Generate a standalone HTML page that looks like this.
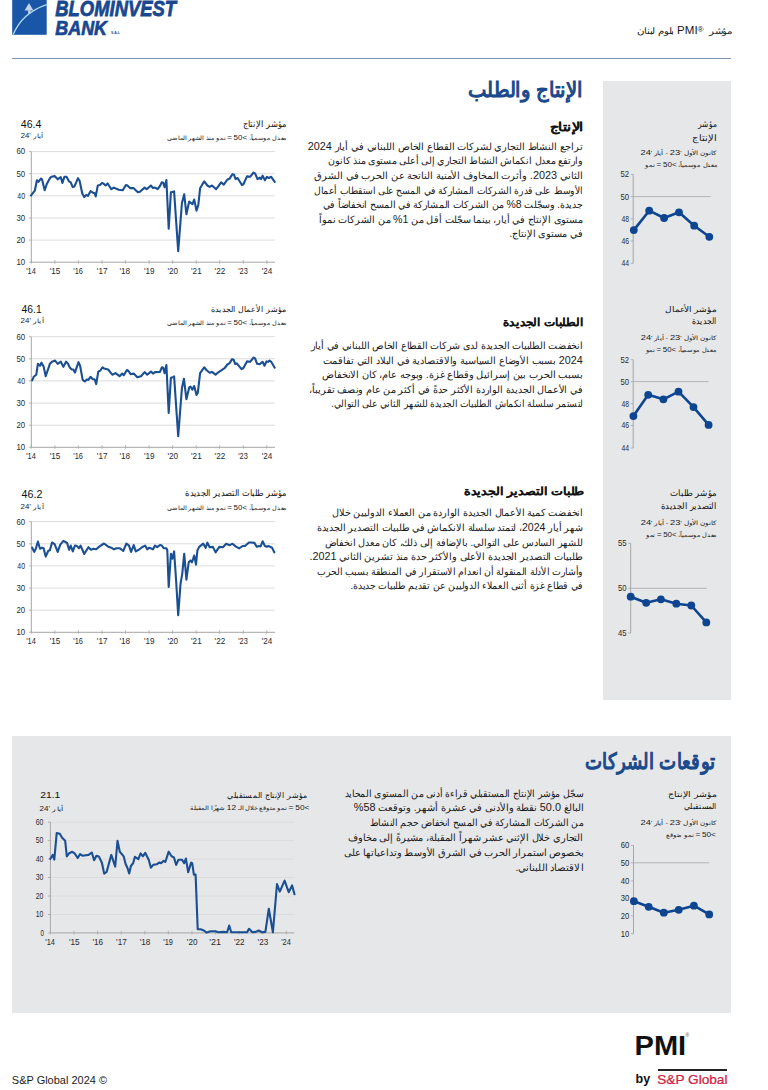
<!DOCTYPE html><html><head><meta charset="utf-8"><style>
html,body{margin:0;padding:0;background:#fff;width:768px;height:1090px;overflow:hidden;position:relative;font-family:"Liberation Sans",sans-serif;}
.t{position:absolute;white-space:nowrap;line-height:1;transform-origin:0 0;}
.s{position:absolute;left:0;top:0;}
.b{position:absolute;}
.p{position:absolute;white-space:nowrap;font-size:10px;color:#1a1a1a;line-height:14.6px;}
</style></head><body>
<div class="b" style="left:603px;top:80.5px;width:128px;height:619.5px;background:#e6e7e9"></div>
<div class="b" style="left:11.7px;top:736px;width:719.3px;height:277px;background:#e6e7e9"></div>
<div class="b" style="left:12px;top:58px;width:719.4px;height:1px;background:#7f96b2"></div>
<svg class="s" width="768" height="1090"><rect x="12.2" y="0" width="34.5" height="34.8" fill="#1a56a8"/>
<path d="M13.2,34.6 Q22,13 46.6,4.6" fill="none" stroke="#b0dcf5" stroke-width="1.3"/>
<path d="M29,2.9 L33.4,10.4 L24.6,10.6 Z" fill="#c3d3ea"/><rect x="28.1" y="10.2" width="2.4" height="3.5" fill="#c3d3ea"/>
</svg>
<div class="t" id="logo1" style="left:55.3px;top:-4.1px;font-size:20px;color:#18488f;font-weight:bold;font-style:italic;-webkit-text-stroke:0.7px #18488f;transform:translate(0.30px,0.41px) scale(0.9211,1.1231);">BLOMINVEST</div>
<div class="t" id="logo2" style="left:55.3px;top:15.0px;font-size:20px;color:#18488f;font-weight:bold;font-style:italic;-webkit-text-stroke:0.7px #18488f;transform:translate(0.30px,1.87px) scale(0.8950,1.0429);">BANK</div>
<div class="t" style="left:111px;top:31.5px;font-size:3.5px;font-weight:bold;color:#18488f">S.A.L</div>
<div class="t" id="hdr" dir="rtl" style="right:36.6px;top:24.1px;font-size:10px;color:#1a1a1a;font-weight:normal;transform:translate(4.00px,1.88px) scale(0.9633,0.8500);">مؤشر&nbsp; <span dir="ltr" style="unicode-bidi:isolate;font-size:12px">PMI<span style="font-size:8.5px;vertical-align:3px">®</span></span> بلوم لبنان</div>
<div class="t" id="title1" dir="rtl" style="right:186.0px;top:75.0px;font-size:20px;color:#1a4a8c;font-weight:normal;-webkit-text-stroke:1.1px #1a4a8c;transform:translate(5.03px,3.96px) scale(0.9658,1.0364);">الإنتاج والطلب</div>
<div class="t" id="sub1" dir="rtl" style="right:185.3px;top:117.7px;font-size:13px;color:#111;font-weight:bold;-webkit-text-stroke:0.1px #111;transform:translate(-2.50px,2.90px) scale(1.1067,0.9067);">الإنتاج</div>
<div class="p" dir="rtl" style="right:185.2px;top:139.8px;font-size:10px;line-height:14.6px;transform:scaleX(0.9832);transform-origin:100% 50%;">تراجع النشاط التجاري لشركات القطاع الخاص اللبناني في أيار <span style="font-size:11px;line-height:0">2024</span></div>
<div class="p" dir="rtl" style="right:185.2px;top:154.4px;font-size:10px;line-height:14.6px;transform:scaleX(0.9535);transform-origin:100% 50%;">وارتفع معدل انكماش النشاط التجاري إلى أعلى مستوى منذ كانون</div>
<div class="p" dir="rtl" style="right:185.2px;top:169.0px;font-size:10px;line-height:14.6px;transform:scaleX(0.9880);transform-origin:100% 50%;">الثاني <span style="font-size:11px;line-height:0">2023.</span> وأثرت المخاوف الأمنية الناتجة عن الحرب في الشرق</div>
<div class="p" dir="rtl" style="right:185.2px;top:183.6px;font-size:10px;line-height:14.6px;transform:scaleX(0.9208);transform-origin:100% 50%;">الأوسط على قدرة الشركات المشاركة في المسح على استقطاب أعمال</div>
<div class="p" dir="rtl" style="right:185.2px;top:198.2px;font-size:10px;line-height:14.6px;transform:scaleX(0.9492);transform-origin:100% 50%;">جديدة. وسجّلت <span style="font-size:11px;line-height:0">8%</span> من الشركات المشاركة في المسح انخفاضاً في</div>
<div class="p" dir="rtl" style="right:185.2px;top:212.8px;font-size:10px;line-height:14.6px;transform:scaleX(0.9656);transform-origin:100% 50%;">مستوى الإنتاج في أيار، بينما سجّلت أقل من <span style="font-size:11px;line-height:0">1%</span> من الشركات نمواً</div>
<div class="p" dir="rtl" style="right:185.2px;top:227.4px;font-size:10px;line-height:14.6px;transform:scaleX(0.9662);transform-origin:100% 50%;">في مستوى الإنتاج.</div>
<div class="t" id="sub2" dir="rtl" style="right:184.9px;top:313.9px;font-size:13px;color:#111;font-weight:bold;-webkit-text-stroke:0.1px #111;transform:translate(8.00px,2.75px) scale(0.9207,0.8500);">الطلبات الجديدة</div>
<div class="p" dir="rtl" style="right:185.2px;top:339.0px;font-size:10px;line-height:14.6px;transform:scaleX(0.9595);transform-origin:100% 50%;">انخفضت الطلبيات الجديدة لدى شركات القطاع الخاص اللبناني في أيار</div>
<div class="p" dir="rtl" style="right:185.2px;top:353.6px;font-size:10px;line-height:14.6px;transform:scaleX(0.9752);transform-origin:100% 50%;"><span style="font-size:11px;line-height:0">2024</span> بسبب الأوضاع السياسية والاقتصادية في البلاد التي تفاقمت</div>
<div class="p" dir="rtl" style="right:185.2px;top:368.2px;font-size:10px;line-height:14.6px;transform:scaleX(0.9812);transform-origin:100% 50%;">بسبب الحرب بين إسرائيل وقطاع غزة. وبوجه عام، كان الانخفاض</div>
<div class="p" dir="rtl" style="right:185.2px;top:382.8px;font-size:10px;line-height:14.6px;transform:scaleX(0.9669);transform-origin:100% 50%;">في الأعمال الجديدة الواردة الأكثر حدةً في أكثر من عام ونصف تقريباً،</div>
<div class="p" dir="rtl" style="right:185.2px;top:397.4px;font-size:10px;line-height:14.6px;transform:scaleX(0.9156);transform-origin:100% 50%;">لتستمر سلسلة انكماش الطلبيات الجديدة للشهر الثاني على التوالي.</div>
<div class="t" id="sub3" dir="rtl" style="right:184.0px;top:482.1px;font-size:13px;color:#111;font-weight:bold;-webkit-text-stroke:0.1px #111;transform:translate(2.70px,3.27px) scale(0.9780,0.8500);">طلبات التصدير الجديدة</div>
<div class="p" dir="rtl" style="right:185.2px;top:506.4px;font-size:10px;line-height:14.6px;transform:scaleX(0.9682);transform-origin:100% 50%;">انخفضت كمية الأعمال الجديدة الواردة من العملاء الدوليين خلال</div>
<div class="p" dir="rtl" style="right:185.2px;top:521.0px;font-size:10px;line-height:14.6px;transform:scaleX(0.9613);transform-origin:100% 50%;">شهر أيار <span style="font-size:11px;line-height:0">2024</span>، لتمتد سلسلة الانكماش في طلبيات التصدير الجديدة</div>
<div class="p" dir="rtl" style="right:185.2px;top:535.6px;font-size:10px;line-height:14.6px;transform:scaleX(0.9670);transform-origin:100% 50%;">للشهر السادس على التوالي. بالإضافة إلى ذلك، كان معدل انخفاض</div>
<div class="p" dir="rtl" style="right:185.2px;top:550.2px;font-size:10px;line-height:14.6px;transform:scaleX(0.9807);transform-origin:100% 50%;">طلبيات التصدير الجديدة الأعلى والأكثر حدة منذ تشرين الثاني <span style="font-size:11px;line-height:0">2021.</span></div>
<div class="p" dir="rtl" style="right:185.2px;top:564.8px;font-size:10px;line-height:14.6px;transform:scaleX(0.9359);transform-origin:100% 50%;">وأشارت الأدلة المنقولة أن انعدام الاستقرار في المنطقة بسبب الحرب</div>
<div class="p" dir="rtl" style="right:185.2px;top:579.4px;font-size:10px;line-height:14.6px;transform:scaleX(0.9409);transform-origin:100% 50%;">في قطاع غزة أثنى العملاء الدوليين عن تقديم طلبيات جديدة.</div>
<svg class="s" width="768" height="1090"><line x1="31.3" y1="151.6" x2="275" y2="151.6" stroke="#dcdcdc" stroke-width="1"/><line x1="28.8" y1="151.6" x2="31.3" y2="151.6" stroke="#a6a6a6" stroke-width="0.8"/><line x1="31.3" y1="173.7" x2="275" y2="173.7" stroke="#dcdcdc" stroke-width="1"/><line x1="28.8" y1="173.7" x2="31.3" y2="173.7" stroke="#a6a6a6" stroke-width="0.8"/><line x1="31.3" y1="195.8" x2="275" y2="195.8" stroke="#dcdcdc" stroke-width="1"/><line x1="28.8" y1="195.8" x2="31.3" y2="195.8" stroke="#a6a6a6" stroke-width="0.8"/><line x1="31.3" y1="218.0" x2="275" y2="218.0" stroke="#dcdcdc" stroke-width="1"/><line x1="28.8" y1="218.0" x2="31.3" y2="218.0" stroke="#a6a6a6" stroke-width="0.8"/><line x1="31.3" y1="240.1" x2="275" y2="240.1" stroke="#dcdcdc" stroke-width="1"/><line x1="28.8" y1="240.1" x2="31.3" y2="240.1" stroke="#a6a6a6" stroke-width="0.8"/><line x1="28.8" y1="262.2" x2="31.3" y2="262.2" stroke="#a6a6a6" stroke-width="0.8"/><line x1="31.3" y1="151.6" x2="31.3" y2="262.2" stroke="#a6a6a6" stroke-width="1"/><line x1="31.3" y1="262.2" x2="275" y2="262.2" stroke="#a6a6a6" stroke-width="1"/><line x1="31.3" y1="260.2" x2="31.3" y2="263.7" stroke="#a6a6a6" stroke-width="0.8"/><line x1="54.9" y1="260.2" x2="54.9" y2="263.7" stroke="#a6a6a6" stroke-width="0.8"/><line x1="78.4" y1="260.2" x2="78.4" y2="263.7" stroke="#a6a6a6" stroke-width="0.8"/><line x1="102.0" y1="260.2" x2="102.0" y2="263.7" stroke="#a6a6a6" stroke-width="0.8"/><line x1="125.5" y1="260.2" x2="125.5" y2="263.7" stroke="#a6a6a6" stroke-width="0.8"/><line x1="149.1" y1="260.2" x2="149.1" y2="263.7" stroke="#a6a6a6" stroke-width="0.8"/><line x1="172.6" y1="260.2" x2="172.6" y2="263.7" stroke="#a6a6a6" stroke-width="0.8"/><line x1="196.2" y1="260.2" x2="196.2" y2="263.7" stroke="#a6a6a6" stroke-width="0.8"/><line x1="219.7" y1="260.2" x2="219.7" y2="263.7" stroke="#a6a6a6" stroke-width="0.8"/><line x1="243.3" y1="260.2" x2="243.3" y2="263.7" stroke="#a6a6a6" stroke-width="0.8"/><line x1="266.8" y1="260.2" x2="266.8" y2="263.7" stroke="#a6a6a6" stroke-width="0.8"/><polyline points="31.1,195.4 34.8,190.7 36.9,180.3 38.4,181.9 39.5,180.3 41.0,178.5 42.1,179.8 44.7,190.2 46.8,184.0 49.9,178.2 51.4,176.7 54.6,176.1 57.7,179.3 59.2,178.2 60.8,177.2 62.4,182.9 64.5,176.7 66.5,176.7 69.1,181.4 70.7,182.4 72.8,187.1 74.4,186.6 78.0,178.2 79.6,180.8 82.2,193.3 84.2,197.0 86.3,194.9 87.9,195.9 90.5,191.2 93.1,192.8 94.7,193.3 95.7,196.5 97.8,185.5 99.9,185.0 102.0,182.9 104.0,184.0 105.6,185.5 107.6,183.4 109.2,186.0 111.3,189.2 113.9,187.6 118.6,189.7 122.8,190.2 125.9,185.0 127.4,185.5 130.0,188.1 133.7,188.1 135.2,189.7 137.9,192.3 139.9,191.8 144.6,187.6 146.7,189.2 150.9,185.5 153.0,188.1 155.0,187.6 157.6,189.2 160.0,186.0 161.8,182.3 163.2,182.8 164.6,187.3 166.4,180.0 168.7,228.8 170.9,192.3 174.1,191.4 178.2,251.1 181.9,203.3 184.2,194.2 186.4,214.2 189.2,201.5 192.4,204.2 194.2,199.6 196.5,210.6 198.3,205.1 200.1,188.2 204.2,181.4 207.4,185.5 209.7,186.9 212.0,185.5 216.1,189.2 218.3,186.4 221.1,182.3 223.8,184.6 227.4,179.5 229.4,178.8 232.5,174.1 234.1,174.8 235.6,179.1 237.6,178.0 241.9,185.0 243.4,184.2 247.0,176.4 250.1,176.8 253.6,172.5 255.2,173.7 257.5,179.1 259.8,177.6 261.0,179.1 262.6,175.6 264.9,180.3 266.9,176.8 268.8,178.0 271.2,176.8 274.7,181.9" fill="none" stroke="#1b4f93" stroke-width="2.1" stroke-linejoin="round" stroke-linecap="round"/></svg>
<div class="t" id="c1y0" style="left:16.5px;top:146.8px;font-size:8px;color:#2a2a2a;font-weight:normal;transform:translate(-0.50px,0.68px) scale(0.9750,1.1200);">60</div>
<div class="t" id="c1y1" style="left:16.5px;top:168.9px;font-size:8px;color:#2a2a2a;font-weight:normal;transform:translate(-0.50px,0.80px) scale(0.9750,1.1200);">50</div>
<div class="t" id="c1y2" style="left:16.5px;top:191.0px;font-size:8px;color:#2a2a2a;font-weight:normal;transform:translate(0.37px,0.92px) scale(0.8667,1.1200);">40</div>
<div class="t" id="c1y3" style="left:16.5px;top:213.2px;font-size:8px;color:#2a2a2a;font-weight:normal;transform:translate(-0.50px,1.04px) scale(0.9750,1.1200);">30</div>
<div class="t" id="c1y4" style="left:16.5px;top:235.3px;font-size:8px;color:#2a2a2a;font-weight:normal;transform:translate(-0.50px,1.16px) scale(0.9750,1.1200);">20</div>
<div class="t" id="c1y5" style="left:16.5px;top:257.4px;font-size:8px;color:#2a2a2a;font-weight:normal;transform:translate(-0.50px,1.28px) scale(0.9750,1.1200);">10</div>
<div class="t" id="c1x0" style="left:26.2px;top:266.5px;font-size:8px;color:#2a2a2a;font-weight:normal;transform:translate(0.20px,0.46px) scale(0.9273,1.0400);">'14</div>
<div class="t" id="c1x1" style="left:49.8px;top:266.5px;font-size:8px;color:#2a2a2a;font-weight:normal;transform:translate(-0.25px,0.46px) scale(1.0200,1.0400);">'15</div>
<div class="t" id="c1x2" style="left:73.3px;top:266.5px;font-size:8px;color:#2a2a2a;font-weight:normal;transform:translate(0.30px,0.46px) scale(0.9273,1.0400);">'16</div>
<div class="t" id="c1x3" style="left:96.9px;top:266.5px;font-size:8px;color:#2a2a2a;font-weight:normal;transform:translate(-0.15px,0.46px) scale(1.0200,1.0400);">'17</div>
<div class="t" id="c1x4" style="left:120.4px;top:266.5px;font-size:8px;color:#2a2a2a;font-weight:normal;transform:translate(-0.62px,0.46px) scale(1.0200,1.0400);">'18</div>
<div class="t" id="c1x5" style="left:144.0px;top:266.5px;font-size:8px;color:#2a2a2a;font-weight:normal;transform:translate(-0.05px,0.46px) scale(1.0200,1.0400);">'19</div>
<div class="t" id="c1x6" style="left:167.5px;top:266.5px;font-size:8px;color:#2a2a2a;font-weight:normal;transform:translate(-0.50px,0.46px) scale(1.0200,1.0400);">'20</div>
<div class="t" id="c1x7" style="left:191.1px;top:266.5px;font-size:8px;color:#2a2a2a;font-weight:normal;transform:translate(0.05px,0.46px) scale(1.0200,1.0400);">'21</div>
<div class="t" id="c1x8" style="left:214.6px;top:266.5px;font-size:8px;color:#2a2a2a;font-weight:normal;transform:translate(-0.40px,0.46px) scale(1.0200,1.0400);">'22</div>
<div class="t" id="c1x9" style="left:238.2px;top:266.5px;font-size:8px;color:#2a2a2a;font-weight:normal;transform:translate(0.15px,0.46px) scale(0.9273,1.0400);">'23</div>
<div class="t" id="c1x10" style="left:261.7px;top:266.5px;font-size:8px;color:#2a2a2a;font-weight:normal;transform:translate(-0.30px,0.46px) scale(1.0200,1.0400);">'24</div>
<div class="t" id="c1v" style="left:20.8px;top:117.3px;font-size:10.5px;color:#111;font-weight:normal;transform:translate(-0.20px,1.93px) scale(1.0100,0.9750);">46.4</div>
<div class="t" id="c1d" style="left:20.8px;top:130.3px;font-size:7.5px;color:#222;font-weight:normal;direction:ltr;transform:translate(-0.20px,2.88px) scale(1.0227,0.8500);">أيار '24</div>
<div class="t" id="c1t" dir="rtl" style="right:481.4px;top:117.2px;font-size:9.5px;color:#111;font-weight:normal;transform:translate(6.60px,2.60px) scale(0.8627,0.9273);">مؤشر الإنتاج</div>
<div class="t" id="c1s" dir="rtl" style="right:481.4px;top:132.3px;font-size:6.8px;color:#1a1a1a;font-weight:normal;transform:translate(12.80px,3.28px) scale(0.9076,0.8500);">معدل موسمياً، <span style="font-size:8.8px;line-height:0">&gt;</span><span style="font-size:8.8px;line-height:0">50</span> <span style="font-size:8.8px;line-height:0">=</span> نمو منذ الشهر الماضي</div>
<svg class="s" width="768" height="1090"><line x1="31.3" y1="336.7" x2="275" y2="336.7" stroke="#dcdcdc" stroke-width="1"/><line x1="28.8" y1="336.7" x2="31.3" y2="336.7" stroke="#a6a6a6" stroke-width="0.8"/><line x1="31.3" y1="358.8" x2="275" y2="358.8" stroke="#dcdcdc" stroke-width="1"/><line x1="28.8" y1="358.8" x2="31.3" y2="358.8" stroke="#a6a6a6" stroke-width="0.8"/><line x1="31.3" y1="380.9" x2="275" y2="380.9" stroke="#dcdcdc" stroke-width="1"/><line x1="28.8" y1="380.9" x2="31.3" y2="380.9" stroke="#a6a6a6" stroke-width="0.8"/><line x1="31.3" y1="403.1" x2="275" y2="403.1" stroke="#dcdcdc" stroke-width="1"/><line x1="28.8" y1="403.1" x2="31.3" y2="403.1" stroke="#a6a6a6" stroke-width="0.8"/><line x1="31.3" y1="425.2" x2="275" y2="425.2" stroke="#dcdcdc" stroke-width="1"/><line x1="28.8" y1="425.2" x2="31.3" y2="425.2" stroke="#a6a6a6" stroke-width="0.8"/><line x1="28.8" y1="447.3" x2="31.3" y2="447.3" stroke="#a6a6a6" stroke-width="0.8"/><line x1="31.3" y1="336.7" x2="31.3" y2="447.3" stroke="#a6a6a6" stroke-width="1"/><line x1="31.3" y1="447.3" x2="275" y2="447.3" stroke="#a6a6a6" stroke-width="1"/><line x1="31.3" y1="445.3" x2="31.3" y2="448.8" stroke="#a6a6a6" stroke-width="0.8"/><line x1="54.9" y1="445.3" x2="54.9" y2="448.8" stroke="#a6a6a6" stroke-width="0.8"/><line x1="78.4" y1="445.3" x2="78.4" y2="448.8" stroke="#a6a6a6" stroke-width="0.8"/><line x1="102.0" y1="445.3" x2="102.0" y2="448.8" stroke="#a6a6a6" stroke-width="0.8"/><line x1="125.5" y1="445.3" x2="125.5" y2="448.8" stroke="#a6a6a6" stroke-width="0.8"/><line x1="149.1" y1="445.3" x2="149.1" y2="448.8" stroke="#a6a6a6" stroke-width="0.8"/><line x1="172.6" y1="445.3" x2="172.6" y2="448.8" stroke="#a6a6a6" stroke-width="0.8"/><line x1="196.2" y1="445.3" x2="196.2" y2="448.8" stroke="#a6a6a6" stroke-width="0.8"/><line x1="219.7" y1="445.3" x2="219.7" y2="448.8" stroke="#a6a6a6" stroke-width="0.8"/><line x1="243.3" y1="445.3" x2="243.3" y2="448.8" stroke="#a6a6a6" stroke-width="0.8"/><line x1="266.8" y1="445.3" x2="266.8" y2="448.8" stroke="#a6a6a6" stroke-width="0.8"/><polyline points="32.2,380.4 33.7,376.8 36.3,374.7 37.9,363.8 40.0,365.8 41.5,362.7 43.6,366.4 45.7,376.2 47.8,370.0 49.9,363.8 52.0,361.7 55.1,360.6 57.7,363.8 60.8,361.7 63.4,366.9 66.0,361.7 68.1,363.8 69.7,367.4 71.8,369.5 73.3,369.5 74.9,372.6 78.5,362.2 80.1,365.8 82.7,379.9 84.8,381.5 86.9,379.4 88.4,379.9 90.5,376.8 92.6,378.9 94.7,379.4 96.2,384.1 98.3,371.6 100.4,370.5 102.5,367.4 104.0,368.4 108.2,369.5 110.2,372.1 112.3,374.7 115.5,373.1 119.6,376.2 122.2,373.6 123.8,375.2 126.9,370.0 128.5,371.0 130.6,374.2 133.7,373.6 137.3,377.3 141.0,376.2 144.6,372.1 147.2,374.7 150.9,371.6 153.0,373.6 155.0,372.1 160.0,371.9 161.8,367.3 163.2,367.8 164.6,373.2 166.4,365.0 168.7,412.9 170.9,377.8 172.8,377.3 174.1,376.4 178.2,436.1 181.9,388.3 183.9,378.7 186.4,399.2 189.2,387.4 190.5,386.5 192.4,389.7 194.2,386.0 196.5,395.1 197.8,392.8 200.1,373.2 204.2,367.3 206.9,370.5 209.7,372.8 212.0,371.9 215.6,374.6 218.3,372.3 223.8,368.7 224.7,368.0 227.4,364.5 229.4,363.4 232.1,359.1 233.7,359.8 235.2,364.1 236.8,363.4 241.5,369.2 243.4,368.0 247.0,361.4 250.1,361.8 253.6,357.5 255.2,358.7 257.1,363.8 259.8,364.1 262.6,361.8 264.5,365.7 266.5,361.4 268.0,361.8 269.6,360.6 271.2,361.8 274.7,367.7" fill="none" stroke="#1b4f93" stroke-width="2.1" stroke-linejoin="round" stroke-linecap="round"/></svg>
<div class="t" id="c2y0" style="left:16.5px;top:331.9px;font-size:8px;color:#2a2a2a;font-weight:normal;transform:translate(-0.50px,0.78px) scale(0.9750,1.1200);">60</div>
<div class="t" id="c2y1" style="left:16.5px;top:354.0px;font-size:8px;color:#2a2a2a;font-weight:normal;transform:translate(-0.50px,0.90px) scale(0.9750,1.1200);">50</div>
<div class="t" id="c2y2" style="left:16.5px;top:376.1px;font-size:8px;color:#2a2a2a;font-weight:normal;transform:translate(0.37px,1.02px) scale(0.8667,1.1200);">40</div>
<div class="t" id="c2y3" style="left:16.5px;top:398.3px;font-size:8px;color:#2a2a2a;font-weight:normal;transform:translate(-0.50px,1.14px) scale(0.9750,1.1200);">30</div>
<div class="t" id="c2y4" style="left:16.5px;top:420.4px;font-size:8px;color:#2a2a2a;font-weight:normal;transform:translate(-0.50px,1.26px) scale(0.9750,1.1200);">20</div>
<div class="t" id="c2y5" style="left:16.5px;top:442.5px;font-size:8px;color:#2a2a2a;font-weight:normal;transform:translate(-0.50px,0.38px) scale(0.9750,1.1200);">10</div>
<div class="t" id="c2x0" style="left:26.2px;top:451.6px;font-size:8px;color:#2a2a2a;font-weight:normal;transform:translate(0.20px,0.56px) scale(0.9273,1.0400);">'14</div>
<div class="t" id="c2x1" style="left:49.8px;top:451.6px;font-size:8px;color:#2a2a2a;font-weight:normal;transform:translate(-0.25px,0.56px) scale(1.0200,1.0400);">'15</div>
<div class="t" id="c2x2" style="left:73.3px;top:451.6px;font-size:8px;color:#2a2a2a;font-weight:normal;transform:translate(0.30px,0.56px) scale(0.9273,1.0400);">'16</div>
<div class="t" id="c2x3" style="left:96.9px;top:451.6px;font-size:8px;color:#2a2a2a;font-weight:normal;transform:translate(-0.15px,0.56px) scale(1.0200,1.0400);">'17</div>
<div class="t" id="c2x4" style="left:120.4px;top:451.6px;font-size:8px;color:#2a2a2a;font-weight:normal;transform:translate(-0.62px,0.56px) scale(1.0200,1.0400);">'18</div>
<div class="t" id="c2x5" style="left:144.0px;top:451.6px;font-size:8px;color:#2a2a2a;font-weight:normal;transform:translate(-0.05px,0.56px) scale(1.0200,1.0400);">'19</div>
<div class="t" id="c2x6" style="left:167.5px;top:451.6px;font-size:8px;color:#2a2a2a;font-weight:normal;transform:translate(-0.50px,0.56px) scale(1.0200,1.0400);">'20</div>
<div class="t" id="c2x7" style="left:191.1px;top:451.6px;font-size:8px;color:#2a2a2a;font-weight:normal;transform:translate(0.05px,0.56px) scale(1.0200,1.0400);">'21</div>
<div class="t" id="c2x8" style="left:214.6px;top:451.6px;font-size:8px;color:#2a2a2a;font-weight:normal;transform:translate(-0.40px,0.56px) scale(1.0200,1.0400);">'22</div>
<div class="t" id="c2x9" style="left:238.2px;top:451.6px;font-size:8px;color:#2a2a2a;font-weight:normal;transform:translate(0.15px,0.56px) scale(0.9273,1.0400);">'23</div>
<div class="t" id="c2x10" style="left:261.7px;top:451.6px;font-size:8px;color:#2a2a2a;font-weight:normal;transform:translate(-0.30px,0.56px) scale(1.0200,1.0400);">'24</div>
<div class="t" id="c2v" style="left:20.6px;top:302.9px;font-size:10.5px;color:#111;font-weight:normal;transform:translate(0.58px,1.53px) scale(0.9810,0.9750);">46.1</div>
<div class="t" id="c2d" style="left:20.6px;top:314.5px;font-size:7.5px;color:#222;font-weight:normal;direction:ltr;transform:translate(-0.40px,2.77px) scale(1.0571,0.8500);">أيار '24</div>
<div class="t" id="c2t" dir="rtl" style="right:481.4px;top:302.2px;font-size:9.5px;color:#111;font-weight:normal;transform:translate(14.80px,3.00px) scale(0.8330,0.8500);">مؤشر الأعمال الجديدة</div>
<div class="t" id="c2s" dir="rtl" style="right:481.4px;top:317.3px;font-size:6.8px;color:#1a1a1a;font-weight:normal;transform:translate(12.80px,3.27px) scale(0.9076,0.8500);">معدل موسمياً، <span style="font-size:8.8px;line-height:0">&gt;</span><span style="font-size:8.8px;line-height:0">50</span> <span style="font-size:8.8px;line-height:0">=</span> نمو منذ الشهر الماضي</div>
<svg class="s" width="768" height="1090"><line x1="31.3" y1="521.7" x2="275" y2="521.7" stroke="#dcdcdc" stroke-width="1"/><line x1="28.8" y1="521.7" x2="31.3" y2="521.7" stroke="#a6a6a6" stroke-width="0.8"/><line x1="31.3" y1="543.8" x2="275" y2="543.8" stroke="#dcdcdc" stroke-width="1"/><line x1="28.8" y1="543.8" x2="31.3" y2="543.8" stroke="#a6a6a6" stroke-width="0.8"/><line x1="31.3" y1="565.9" x2="275" y2="565.9" stroke="#dcdcdc" stroke-width="1"/><line x1="28.8" y1="565.9" x2="31.3" y2="565.9" stroke="#a6a6a6" stroke-width="0.8"/><line x1="31.3" y1="588.1" x2="275" y2="588.1" stroke="#dcdcdc" stroke-width="1"/><line x1="28.8" y1="588.1" x2="31.3" y2="588.1" stroke="#a6a6a6" stroke-width="0.8"/><line x1="31.3" y1="610.2" x2="275" y2="610.2" stroke="#dcdcdc" stroke-width="1"/><line x1="28.8" y1="610.2" x2="31.3" y2="610.2" stroke="#a6a6a6" stroke-width="0.8"/><line x1="28.8" y1="632.3" x2="31.3" y2="632.3" stroke="#a6a6a6" stroke-width="0.8"/><line x1="31.3" y1="521.7" x2="31.3" y2="632.3" stroke="#a6a6a6" stroke-width="1"/><line x1="31.3" y1="632.3" x2="275" y2="632.3" stroke="#a6a6a6" stroke-width="1"/><line x1="31.3" y1="630.3" x2="31.3" y2="633.8" stroke="#a6a6a6" stroke-width="0.8"/><line x1="54.9" y1="630.3" x2="54.9" y2="633.8" stroke="#a6a6a6" stroke-width="0.8"/><line x1="78.4" y1="630.3" x2="78.4" y2="633.8" stroke="#a6a6a6" stroke-width="0.8"/><line x1="102.0" y1="630.3" x2="102.0" y2="633.8" stroke="#a6a6a6" stroke-width="0.8"/><line x1="125.5" y1="630.3" x2="125.5" y2="633.8" stroke="#a6a6a6" stroke-width="0.8"/><line x1="149.1" y1="630.3" x2="149.1" y2="633.8" stroke="#a6a6a6" stroke-width="0.8"/><line x1="172.6" y1="630.3" x2="172.6" y2="633.8" stroke="#a6a6a6" stroke-width="0.8"/><line x1="196.2" y1="630.3" x2="196.2" y2="633.8" stroke="#a6a6a6" stroke-width="0.8"/><line x1="219.7" y1="630.3" x2="219.7" y2="633.8" stroke="#a6a6a6" stroke-width="0.8"/><line x1="243.3" y1="630.3" x2="243.3" y2="633.8" stroke="#a6a6a6" stroke-width="0.8"/><line x1="266.8" y1="630.3" x2="266.8" y2="633.8" stroke="#a6a6a6" stroke-width="0.8"/><polyline points="32.2,547.7 34.2,551.9 35.8,548.8 37.9,541.5 40.0,548.8 42.1,547.7 43.6,548.2 45.7,556.6 48.3,550.8 49.9,550.3 52.0,542.5 54.6,544.1 57.7,551.9 60.3,544.6 63.4,540.9 67.1,543.0 69.1,549.8 70.7,545.6 72.8,551.4 74.9,545.6 77.0,546.1 79.0,548.2 80.6,545.6 84.2,554.0 88.4,547.2 91.0,549.8 93.6,548.8 96.2,549.3 99.9,546.1 104.0,543.5 108.2,546.7 111.3,547.7 113.9,549.3 116.5,548.2 119.6,548.2 123.3,550.8 126.4,543.5 129.0,545.6 131.1,551.9 133.7,545.1 135.8,551.4 139.4,549.3 142.0,547.2 145.1,545.6 147.2,549.3 149.3,547.7 153.0,549.3 155.0,545.6 157.1,547.2 160.0,545.0 161.8,545.5 163.6,548.2 166.4,548.2 167.3,550.5 168.7,587.0 170.9,553.7 172.3,558.7 174.1,551.4 176.0,578.8 178.2,615.2 180.5,584.2 182.3,573.3 184.2,553.7 186.4,579.7 188.7,562.3 190.5,560.5 191.9,562.3 194.2,555.5 196.0,564.6 197.4,550.5 199.2,546.9 203.3,543.7 205.6,547.8 207.4,542.7 209.7,547.3 212.9,546.9 215.6,552.3 219.3,546.9 222.9,547.3 226.2,543.7 229.8,545.2 232.5,543.7 235.6,546.4 239.1,548.4 242.7,546.0 245.0,546.0 248.9,542.5 251.2,542.5 254.4,542.9 256.7,546.8 259.1,546.0 260.6,546.4 262.6,541.3 264.9,546.0 266.9,546.8 268.4,546.0 272.0,547.6 274.3,552.3" fill="none" stroke="#1b4f93" stroke-width="2.1" stroke-linejoin="round" stroke-linecap="round"/></svg>
<div class="t" id="c3y0" style="left:16.5px;top:516.9px;font-size:8px;color:#2a2a2a;font-weight:normal;transform:translate(-0.50px,0.78px) scale(0.9750,1.1200);">60</div>
<div class="t" id="c3y1" style="left:16.5px;top:539.0px;font-size:8px;color:#2a2a2a;font-weight:normal;transform:translate(-0.50px,0.90px) scale(0.9750,1.1200);">50</div>
<div class="t" id="c3y2" style="left:16.5px;top:561.1px;font-size:8px;color:#2a2a2a;font-weight:normal;transform:translate(0.37px,1.02px) scale(0.8667,1.1200);">40</div>
<div class="t" id="c3y3" style="left:16.5px;top:583.3px;font-size:8px;color:#2a2a2a;font-weight:normal;transform:translate(-0.50px,1.14px) scale(0.9750,1.1200);">30</div>
<div class="t" id="c3y4" style="left:16.5px;top:605.4px;font-size:8px;color:#2a2a2a;font-weight:normal;transform:translate(-0.50px,1.26px) scale(0.9750,1.1200);">20</div>
<div class="t" id="c3y5" style="left:16.5px;top:627.5px;font-size:8px;color:#2a2a2a;font-weight:normal;transform:translate(-0.50px,0.38px) scale(0.9750,1.1200);">10</div>
<div class="t" id="c3x0" style="left:26.2px;top:636.6px;font-size:8px;color:#2a2a2a;font-weight:normal;transform:translate(0.20px,0.56px) scale(0.9273,1.0400);">'14</div>
<div class="t" id="c3x1" style="left:49.8px;top:636.6px;font-size:8px;color:#2a2a2a;font-weight:normal;transform:translate(-0.25px,0.56px) scale(1.0200,1.0400);">'15</div>
<div class="t" id="c3x2" style="left:73.3px;top:636.6px;font-size:8px;color:#2a2a2a;font-weight:normal;transform:translate(0.30px,0.56px) scale(0.9273,1.0400);">'16</div>
<div class="t" id="c3x3" style="left:96.9px;top:636.6px;font-size:8px;color:#2a2a2a;font-weight:normal;transform:translate(-0.15px,0.56px) scale(1.0200,1.0400);">'17</div>
<div class="t" id="c3x4" style="left:120.4px;top:636.6px;font-size:8px;color:#2a2a2a;font-weight:normal;transform:translate(-0.62px,0.56px) scale(1.0200,1.0400);">'18</div>
<div class="t" id="c3x5" style="left:144.0px;top:636.6px;font-size:8px;color:#2a2a2a;font-weight:normal;transform:translate(-0.05px,0.56px) scale(1.0200,1.0400);">'19</div>
<div class="t" id="c3x6" style="left:167.5px;top:636.6px;font-size:8px;color:#2a2a2a;font-weight:normal;transform:translate(-0.50px,0.56px) scale(1.0200,1.0400);">'20</div>
<div class="t" id="c3x7" style="left:191.1px;top:636.6px;font-size:8px;color:#2a2a2a;font-weight:normal;transform:translate(0.05px,0.56px) scale(1.0200,1.0400);">'21</div>
<div class="t" id="c3x8" style="left:214.6px;top:636.6px;font-size:8px;color:#2a2a2a;font-weight:normal;transform:translate(-0.40px,0.56px) scale(1.0200,1.0400);">'22</div>
<div class="t" id="c3x9" style="left:238.2px;top:636.6px;font-size:8px;color:#2a2a2a;font-weight:normal;transform:translate(0.15px,0.56px) scale(0.9273,1.0400);">'23</div>
<div class="t" id="c3x10" style="left:261.7px;top:636.6px;font-size:8px;color:#2a2a2a;font-weight:normal;transform:translate(-0.30px,0.56px) scale(1.0200,1.0400);">'24</div>
<div class="t" id="c3v" style="left:20.6px;top:487.9px;font-size:10.5px;color:#111;font-weight:normal;transform:translate(0.62px,1.52px) scale(1.0190,0.9750);">46.2</div>
<div class="t" id="c3d" style="left:20.6px;top:500.3px;font-size:7.5px;color:#222;font-weight:normal;direction:ltr;transform:translate(-0.40px,3.58px) scale(1.0571,0.8500);">أيار '24</div>
<div class="t" id="c3t" dir="rtl" style="right:481.4px;top:486.4px;font-size:9.5px;color:#111;font-weight:normal;transform:translate(18.40px,2.80px) scale(0.8433,0.9182);">مؤشر طلبات التصدير الجديدة</div>
<div class="t" id="c3s" dir="rtl" style="right:481.4px;top:502.3px;font-size:6.8px;color:#1a1a1a;font-weight:normal;transform:translate(12.80px,3.27px) scale(0.9076,0.8500);">معدل موسمياً، <span style="font-size:8.8px;line-height:0">&gt;</span><span style="font-size:8.8px;line-height:0">50</span> <span style="font-size:8.8px;line-height:0">=</span> نمو منذ الشهر الماضي</div>
<svg class="s" width="768" height="1090"><line x1="633.2" y1="174.4" x2="633.2" y2="263.3" stroke="#a6a6a6" stroke-width="1"/><line x1="630.7" y1="174.4" x2="633.2" y2="174.4" stroke="#a6a6a6" stroke-width="0.8"/><line x1="630.7" y1="196.6" x2="633.2" y2="196.6" stroke="#a6a6a6" stroke-width="0.8"/><line x1="630.7" y1="218.8" x2="633.2" y2="218.8" stroke="#a6a6a6" stroke-width="0.8"/><line x1="630.7" y1="241.0" x2="633.2" y2="241.0" stroke="#a6a6a6" stroke-width="0.8"/><line x1="630.7" y1="263.3" x2="633.2" y2="263.3" stroke="#a6a6a6" stroke-width="0.8"/><line x1="633.2" y1="196.6" x2="710.5" y2="196.6" stroke="#b4b4b4" stroke-width="1"/><polyline points="633.8,230.1 649.2,210.7 664.1,218.0 679.0,212.3 694.2,225.7 709.3,236.8" fill="none" stroke="#0d4590" stroke-width="2.6" stroke-linejoin="round"/><circle cx="633.8" cy="230.1" r="3.9" fill="#0d4590"/><circle cx="649.2" cy="210.7" r="3.9" fill="#0d4590"/><circle cx="664.1" cy="218.0" r="3.9" fill="#0d4590"/><circle cx="679.0" cy="212.3" r="3.9" fill="#0d4590"/><circle cx="694.2" cy="225.7" r="3.9" fill="#0d4590"/><circle cx="709.3" cy="236.8" r="3.9" fill="#0d4590"/></svg>
<div class="t" id="m1y0" style="left:620.5px;top:169.6px;font-size:7.5px;color:#2a2a2a;font-weight:normal;transform:translate(-0.50px,0.34px) scale(1.0250,1.1600);">52</div>
<div class="t" id="m1y1" style="left:620.5px;top:191.8px;font-size:7.5px;color:#2a2a2a;font-weight:normal;transform:translate(-0.50px,0.54px) scale(1.0250,1.1600);">50</div>
<div class="t" id="m1y2" style="left:620.5px;top:214.0px;font-size:7.5px;color:#2a2a2a;font-weight:normal;transform:translate(0.41px,0.74px) scale(0.9111,1.1600);">48</div>
<div class="t" id="m1y3" style="left:620.5px;top:236.2px;font-size:7.5px;color:#2a2a2a;font-weight:normal;transform:translate(0.41px,0.94px) scale(0.9111,1.1600);">46</div>
<div class="t" id="m1y4" style="left:620.5px;top:258.5px;font-size:7.5px;color:#2a2a2a;font-weight:normal;transform:translate(0.41px,0.24px) scale(0.9111,1.1600);">44</div>
<div class="t" id="m1t0" dir="rtl" style="right:51.8px;top:118.2px;font-size:9px;color:#111;font-weight:normal;transform:translate(4.83px,1.50px) scale(0.8348,1.0000);">مؤشر</div>
<div class="t" id="m1t1" dir="rtl" style="right:51.8px;top:131.3px;font-size:9px;color:#111;font-weight:normal;transform:translate(-1.10px,2.60px) scale(1.1048,1.0111);">الإنتاج</div>
<div class="t" id="m1d" dir="rtl" style="right:51.8px;top:148.1px;font-size:7px;color:#1a1a1a;font-weight:normal;transform:translate(-1.50px,1.83px) scale(1.0230,0.8500);">كانون الأول '<span style="font-size:9.1px;line-height:0">23</span> - أيار '<span style="font-size:9.1px;line-height:0">24</span></div>
<div class="t" id="m1s" dir="rtl" style="right:51.8px;top:159.3px;font-size:6.5px;color:#1a1a1a;font-weight:normal;transform:translate(5.44px,3.32px) scale(0.9434,0.8500);">معدل موسمياً، <span style="font-size:8.5px;line-height:0">&gt;</span><span style="font-size:8.5px;line-height:0">50</span> <span style="font-size:8.5px;line-height:0">=</span> نمو</div>
<svg class="s" width="768" height="1090"><line x1="633.2" y1="359.7" x2="633.2" y2="448.0" stroke="#a6a6a6" stroke-width="1"/><line x1="630.7" y1="359.7" x2="633.2" y2="359.7" stroke="#a6a6a6" stroke-width="0.8"/><line x1="630.7" y1="381.6" x2="633.2" y2="381.6" stroke="#a6a6a6" stroke-width="0.8"/><line x1="630.7" y1="403.6" x2="633.2" y2="403.6" stroke="#a6a6a6" stroke-width="0.8"/><line x1="630.7" y1="425.5" x2="633.2" y2="425.5" stroke="#a6a6a6" stroke-width="0.8"/><line x1="630.7" y1="448.0" x2="633.2" y2="448.0" stroke="#a6a6a6" stroke-width="0.8"/><line x1="633.2" y1="381.6" x2="708.6" y2="381.6" stroke="#b4b4b4" stroke-width="1"/><polyline points="633.4,416.1 648.2,394.8 663.4,399.3 678.5,391.7 693.5,407.1 708.6,424.9" fill="none" stroke="#0d4590" stroke-width="2.6" stroke-linejoin="round"/><circle cx="633.4" cy="416.1" r="3.9" fill="#0d4590"/><circle cx="648.2" cy="394.8" r="3.9" fill="#0d4590"/><circle cx="663.4" cy="399.3" r="3.9" fill="#0d4590"/><circle cx="678.5" cy="391.7" r="3.9" fill="#0d4590"/><circle cx="693.5" cy="407.1" r="3.9" fill="#0d4590"/><circle cx="708.6" cy="424.9" r="3.9" fill="#0d4590"/></svg>
<div class="t" id="m2y0" style="left:620.5px;top:354.9px;font-size:7.5px;color:#2a2a2a;font-weight:normal;transform:translate(-0.50px,0.64px) scale(1.0250,1.1600);">52</div>
<div class="t" id="m2y1" style="left:620.5px;top:376.8px;font-size:7.5px;color:#2a2a2a;font-weight:normal;transform:translate(-0.50px,0.54px) scale(1.0250,1.1600);">50</div>
<div class="t" id="m2y2" style="left:620.5px;top:398.8px;font-size:7.5px;color:#2a2a2a;font-weight:normal;transform:translate(0.41px,0.54px) scale(0.9111,1.1600);">48</div>
<div class="t" id="m2y3" style="left:620.5px;top:420.7px;font-size:7.5px;color:#2a2a2a;font-weight:normal;transform:translate(0.41px,0.44px) scale(0.9111,1.1600);">46</div>
<div class="t" id="m2y4" style="left:620.5px;top:443.2px;font-size:7.5px;color:#2a2a2a;font-weight:normal;transform:translate(0.41px,0.94px) scale(0.9111,1.1600);">44</div>
<div class="t" id="m2t0" dir="rtl" style="right:52.0px;top:302.1px;font-size:9px;color:#111;font-weight:normal;transform:translate(3.20px,3.82px) scale(0.9585,0.8500);">مؤشر الأعمال</div>
<div class="t" id="m2t1" dir="rtl" style="right:52.0px;top:314.9px;font-size:9px;color:#111;font-weight:normal;transform:translate(5.60px,2.10px) scale(0.8414,0.9875);">الجديدة</div>
<div class="t" id="m2d" dir="rtl" style="right:52.0px;top:333.2px;font-size:7px;color:#1a1a1a;font-weight:normal;transform:translate(-1.20px,2.27px) scale(1.0162,0.8500);">كانون الأول '<span style="font-size:9.1px;line-height:0">23</span> - أيار '<span style="font-size:9.1px;line-height:0">24</span></div>
<div class="t" id="m2s" dir="rtl" style="right:52.0px;top:344.8px;font-size:6.5px;color:#1a1a1a;font-weight:normal;transform:translate(6.63px,2.67px) scale(0.9260,0.8500);">معدل موسمياً، <span style="font-size:8.5px;line-height:0">&gt;</span><span style="font-size:8.5px;line-height:0">50</span> <span style="font-size:8.5px;line-height:0">=</span> نمو</div>
<svg class="s" width="768" height="1090"><line x1="630.7" y1="543.3" x2="630.7" y2="633.0" stroke="#a6a6a6" stroke-width="1"/><line x1="628.2" y1="543.3" x2="630.7" y2="543.3" stroke="#a6a6a6" stroke-width="0.8"/><line x1="628.2" y1="588.3" x2="630.7" y2="588.3" stroke="#a6a6a6" stroke-width="0.8"/><line x1="628.2" y1="633.0" x2="630.7" y2="633.0" stroke="#a6a6a6" stroke-width="0.8"/><line x1="630.7" y1="588.3" x2="706.7" y2="588.3" stroke="#b4b4b4" stroke-width="1"/><polyline points="630.7,596.7 646.2,602.8 660.9,599.3 676.3,603.7 691.3,605.5 706.3,622.4" fill="none" stroke="#0d4590" stroke-width="2.6" stroke-linejoin="round"/><circle cx="630.7" cy="596.7" r="3.9" fill="#0d4590"/><circle cx="646.2" cy="602.8" r="3.9" fill="#0d4590"/><circle cx="660.9" cy="599.3" r="3.9" fill="#0d4590"/><circle cx="676.3" cy="603.7" r="3.9" fill="#0d4590"/><circle cx="691.3" cy="605.5" r="3.9" fill="#0d4590"/><circle cx="706.3" cy="622.4" r="3.9" fill="#0d4590"/></svg>
<div class="t" id="m3y0" style="left:618.0px;top:538.5px;font-size:7.5px;color:#2a2a2a;font-weight:normal;transform:translate(0.00px,0.24px) scale(1.0250,1.1600);">55</div>
<div class="t" id="m3y1" style="left:618.0px;top:583.5px;font-size:7.5px;color:#2a2a2a;font-weight:normal;transform:translate(0.00px,0.24px) scale(1.0250,1.1600);">50</div>
<div class="t" id="m3y2" style="left:618.0px;top:628.2px;font-size:7.5px;color:#2a2a2a;font-weight:normal;transform:translate(0.00px,0.94px) scale(1.0250,1.1600);">45</div>
<div class="t" id="m3t0" dir="rtl" style="right:52.5px;top:486.4px;font-size:9px;color:#111;font-weight:normal;transform:translate(4.40px,2.70px) scale(0.9396,0.9778);">مؤشر طلبات</div>
<div class="t" id="m3t1" dir="rtl" style="right:52.5px;top:499.8px;font-size:9px;color:#111;font-weight:normal;transform:translate(7.50px,2.00px) scale(0.9016,0.9667);">التصدير الجديدة</div>
<div class="t" id="m3d" dir="rtl" style="right:52.5px;top:517.9px;font-size:7px;color:#1a1a1a;font-weight:normal;transform:translate(-1.30px,2.23px) scale(1.0247,0.8500);">كانون الأول '<span style="font-size:9.1px;line-height:0">23</span> - أيار '<span style="font-size:9.1px;line-height:0">24</span></div>
<div class="t" id="m3s" dir="rtl" style="right:52.5px;top:530.1px;font-size:6.5px;color:#1a1a1a;font-weight:normal;transform:translate(6.93px,2.88px) scale(0.9276,0.8500);">معدل موسمياً، <span style="font-size:8.5px;line-height:0">&gt;</span><span style="font-size:8.5px;line-height:0">50</span> <span style="font-size:8.5px;line-height:0">=</span> نمو</div>
<svg class="s" width="768" height="1090"><line x1="633.5" y1="845.3" x2="633.5" y2="933.8" stroke="#a6a6a6" stroke-width="1"/><line x1="631.0" y1="845.3" x2="633.5" y2="845.3" stroke="#a6a6a6" stroke-width="0.8"/><line x1="631.0" y1="862.8" x2="633.5" y2="862.8" stroke="#a6a6a6" stroke-width="0.8"/><line x1="631.0" y1="880.9" x2="633.5" y2="880.9" stroke="#a6a6a6" stroke-width="0.8"/><line x1="631.0" y1="898.3" x2="633.5" y2="898.3" stroke="#a6a6a6" stroke-width="0.8"/><line x1="631.0" y1="915.9" x2="633.5" y2="915.9" stroke="#a6a6a6" stroke-width="0.8"/><line x1="631.0" y1="933.8" x2="633.5" y2="933.8" stroke="#a6a6a6" stroke-width="0.8"/><line x1="633.5" y1="862.8" x2="709.2" y2="862.8" stroke="#b4b4b4" stroke-width="1"/><polyline points="633.9,901.2 648.7,906.8 663.8,912.7 678.7,909.8 693.9,905.7 709.2,914.4" fill="none" stroke="#0d4590" stroke-width="2.6" stroke-linejoin="round"/><circle cx="633.9" cy="901.2" r="3.9" fill="#0d4590"/><circle cx="648.7" cy="906.8" r="3.9" fill="#0d4590"/><circle cx="663.8" cy="912.7" r="3.9" fill="#0d4590"/><circle cx="678.7" cy="909.8" r="3.9" fill="#0d4590"/><circle cx="693.9" cy="905.7" r="3.9" fill="#0d4590"/><circle cx="709.2" cy="914.4" r="3.9" fill="#0d4590"/></svg>
<div class="t" id="m4y0" style="left:620.8px;top:840.5px;font-size:7.5px;color:#2a2a2a;font-weight:normal;transform:translate(-0.20px,0.24px) scale(1.0250,1.1600);">60</div>
<div class="t" id="m4y1" style="left:620.8px;top:858.0px;font-size:7.5px;color:#2a2a2a;font-weight:normal;transform:translate(-0.20px,0.74px) scale(1.0250,1.1600);">50</div>
<div class="t" id="m4y2" style="left:620.8px;top:876.1px;font-size:7.5px;color:#2a2a2a;font-weight:normal;transform:translate(-0.20px,0.84px) scale(1.0250,1.1600);">40</div>
<div class="t" id="m4y3" style="left:620.8px;top:893.5px;font-size:7.5px;color:#2a2a2a;font-weight:normal;transform:translate(-0.20px,0.24px) scale(1.0250,1.1600);">30</div>
<div class="t" id="m4y4" style="left:620.8px;top:911.1px;font-size:7.5px;color:#2a2a2a;font-weight:normal;transform:translate(-0.20px,0.84px) scale(1.0250,1.1600);">20</div>
<div class="t" id="m4y5" style="left:620.8px;top:929.0px;font-size:7.5px;color:#2a2a2a;font-weight:normal;transform:translate(-0.20px,0.74px) scale(1.0250,1.1600);">10</div>
<div class="t" id="m4t0" dir="rtl" style="right:52.0px;top:789.0px;font-size:9px;color:#111;font-weight:normal;transform:translate(1.41px,2.18px) scale(0.9915,0.8500);">مؤشر الإنتاج</div>
<div class="t" id="m4t1" dir="rtl" style="right:52.0px;top:800.8px;font-size:9px;color:#111;font-weight:normal;transform:translate(8.80px,1.97px) scale(0.8050,0.8500);">المستقبلي</div>
<div class="t" id="m4d" dir="rtl" style="right:52.0px;top:817.4px;font-size:7px;color:#1a1a1a;font-weight:normal;transform:translate(-1.40px,2.93px) scale(1.0189,0.8500);">كانون الأول '<span style="font-size:9.1px;line-height:0">23</span> - أيار '<span style="font-size:9.1px;line-height:0">24</span></div>
<div class="t" id="m4s" dir="rtl" style="right:52.0px;top:831.0px;font-size:6.5px;color:#1a1a1a;font-weight:normal;transform:translate(2.00px,2.05px) scale(0.9615,0.8500);"><span style="font-size:8.5px;line-height:0">&gt;</span><span style="font-size:8.5px;line-height:0">50</span> <span style="font-size:8.5px;line-height:0">=</span> نمو متوقع</div>
<div class="t" id="title2" dir="rtl" style="right:52.4px;top:746.7px;font-size:20px;color:#1a4a8c;font-weight:normal;-webkit-text-stroke:1.1px #1a4a8c;transform:translate(11.79px,3.59px) scale(0.9148,1.1091);">توقعات الشركات</div>
<div class="p" dir="rtl" style="right:184.5px;top:786.6px;font-size:10px;line-height:14.8px;transform:scaleX(0.9316);transform-origin:100% 50%;">سجّل مؤشر الإنتاج المستقبلي قراءة أدنى من المستوى المحايد</div>
<div class="p" dir="rtl" style="right:184.5px;top:801.4px;font-size:10px;line-height:14.8px;transform:scaleX(0.9877);transform-origin:100% 50%;">البالغ <span style="font-size:11px;line-height:0">50.0</span> نقطة والأدنى في عشرة أشهر. وتوقعت <span style="font-size:11px;line-height:0">58%</span></div>
<div class="p" dir="rtl" style="right:184.5px;top:816.2px;font-size:10px;line-height:14.8px;transform:scaleX(0.9256);transform-origin:100% 50%;">من الشركات المشاركة في المسح انخفاض حجم النشاط</div>
<div class="p" dir="rtl" style="right:184.5px;top:831.0px;font-size:10px;line-height:14.8px;transform:scaleX(0.9774);transform-origin:100% 50%;">التجاري خلال الإثني عشر شهراً المقبلة، مشيرةً إلى مخاوف</div>
<div class="p" dir="rtl" style="right:184.5px;top:845.8px;font-size:10px;line-height:14.8px;transform:scaleX(0.9753);transform-origin:100% 50%;">بخصوص استمرار الحرب في الشرق الأوسط وتداعياتها على</div>
<div class="p" dir="rtl" style="right:184.5px;top:860.6px;font-size:10px;line-height:14.8px;transform:scaleX(1.0065);transform-origin:100% 50%;">الاقتصاد اللبناني.</div>
<svg class="s" width="768" height="1090"><line x1="50.4" y1="822.1" x2="294.3" y2="822.1" stroke="#dcdcdc" stroke-width="1"/><line x1="47.9" y1="822.1" x2="50.4" y2="822.1" stroke="#a6a6a6" stroke-width="0.8"/><line x1="50.4" y1="840.6" x2="294.3" y2="840.6" stroke="#dcdcdc" stroke-width="1"/><line x1="47.9" y1="840.6" x2="50.4" y2="840.6" stroke="#a6a6a6" stroke-width="0.8"/><line x1="50.4" y1="859.0" x2="294.3" y2="859.0" stroke="#dcdcdc" stroke-width="1"/><line x1="47.9" y1="859.0" x2="50.4" y2="859.0" stroke="#a6a6a6" stroke-width="0.8"/><line x1="50.4" y1="877.5" x2="294.3" y2="877.5" stroke="#dcdcdc" stroke-width="1"/><line x1="47.9" y1="877.5" x2="50.4" y2="877.5" stroke="#a6a6a6" stroke-width="0.8"/><line x1="50.4" y1="896.0" x2="294.3" y2="896.0" stroke="#dcdcdc" stroke-width="1"/><line x1="47.9" y1="896.0" x2="50.4" y2="896.0" stroke="#a6a6a6" stroke-width="0.8"/><line x1="50.4" y1="914.5" x2="294.3" y2="914.5" stroke="#dcdcdc" stroke-width="1"/><line x1="47.9" y1="914.5" x2="50.4" y2="914.5" stroke="#a6a6a6" stroke-width="0.8"/><line x1="47.9" y1="932.9" x2="50.4" y2="932.9" stroke="#a6a6a6" stroke-width="0.8"/><line x1="50.4" y1="822.1" x2="50.4" y2="932.9" stroke="#a6a6a6" stroke-width="1"/><line x1="50.4" y1="932.9" x2="294.3" y2="932.9" stroke="#a6a6a6" stroke-width="1"/><line x1="50.4" y1="930.9" x2="50.4" y2="934.4" stroke="#a6a6a6" stroke-width="0.8"/><line x1="74.0" y1="930.9" x2="74.0" y2="934.4" stroke="#a6a6a6" stroke-width="0.8"/><line x1="97.6" y1="930.9" x2="97.6" y2="934.4" stroke="#a6a6a6" stroke-width="0.8"/><line x1="121.2" y1="930.9" x2="121.2" y2="934.4" stroke="#a6a6a6" stroke-width="0.8"/><line x1="144.8" y1="930.9" x2="144.8" y2="934.4" stroke="#a6a6a6" stroke-width="0.8"/><line x1="168.3" y1="930.9" x2="168.3" y2="934.4" stroke="#a6a6a6" stroke-width="0.8"/><line x1="191.9" y1="930.9" x2="191.9" y2="934.4" stroke="#a6a6a6" stroke-width="0.8"/><line x1="215.5" y1="930.9" x2="215.5" y2="934.4" stroke="#a6a6a6" stroke-width="0.8"/><line x1="239.1" y1="930.9" x2="239.1" y2="934.4" stroke="#a6a6a6" stroke-width="0.8"/><line x1="262.7" y1="930.9" x2="262.7" y2="934.4" stroke="#a6a6a6" stroke-width="0.8"/><line x1="286.3" y1="930.9" x2="286.3" y2="934.4" stroke="#a6a6a6" stroke-width="0.8"/><polyline points="50.4,858.8 52.8,854.9 54.3,859.6 56.7,833.0 59.8,833.8 62.1,837.7 65.2,840.8 66.8,856.4 69.1,853.3 72.3,851.8 74.6,853.3 77.7,858.0 80.1,854.1 82.4,855.7 88.6,854.9 91.8,852.5 94.1,860.3 96.4,855.7 98.8,856.4 101.9,862.7 104.2,873.6 106.6,872.0 111.3,854.9 115.2,866.6 117.5,840.8 119.8,851.8 123.7,856.4 125.7,864.3 127.4,867.7 129.2,873.5 130.9,866.0 133.2,863.1 134.9,856.8 138.3,859.1 140.6,853.4 142.9,856.3 145.2,852.8 148.7,859.7 150.9,867.7 153.2,864.9 156.7,864.3 159.0,862.6 161.3,863.1 163.6,860.8 165.3,862.0 168.7,851.7 171.6,856.3 173.9,857.4 176.2,864.9 178.5,859.7 181.9,859.7 184.2,863.1 185.9,858.6 188.2,872.3 191.1,862.6 192.2,863.1 193.9,874.6 195.6,874.6 197.7,929.2 200.5,929.2 203.9,930.5 206.6,932.6 210.7,931.2 215.5,931.2 218.2,932.3 223.7,931.9 227.1,932.3 229.2,925.5 231.2,932.3 247.0,932.3 249.0,928.8 252.4,932.3 255.8,931.9 258.6,930.5 262.0,932.3 265.4,931.9 268.8,908.7 272.9,932.3 277.0,884.0 279.8,891.6 284.6,880.6 288.7,892.2 292.1,885.4 294.5,894.3" fill="none" stroke="#1b4f93" stroke-width="2.1" stroke-linejoin="round" stroke-linecap="round"/></svg>
<div class="t" id="c4y0" style="left:35.7px;top:817.3px;font-size:8px;color:#2a2a2a;font-weight:normal;transform:translate(-0.30px,1.18px) scale(0.8667,1.1200);">60</div>
<div class="t" id="c4y1" style="left:35.7px;top:835.8px;font-size:8px;color:#2a2a2a;font-weight:normal;transform:translate(-0.30px,0.65px) scale(0.8667,1.1200);">50</div>
<div class="t" id="c4y2" style="left:35.7px;top:854.2px;font-size:8px;color:#2a2a2a;font-weight:normal;transform:translate(-0.30px,1.12px) scale(0.8667,1.1200);">40</div>
<div class="t" id="c4y3" style="left:35.7px;top:872.7px;font-size:8px;color:#2a2a2a;font-weight:normal;transform:translate(-0.30px,0.59px) scale(0.8667,1.1200);">30</div>
<div class="t" id="c4y4" style="left:35.7px;top:891.2px;font-size:8px;color:#2a2a2a;font-weight:normal;transform:translate(-0.30px,1.06px) scale(0.8667,1.1200);">20</div>
<div class="t" id="c4y5" style="left:35.7px;top:909.7px;font-size:8px;color:#2a2a2a;font-weight:normal;transform:translate(-0.30px,0.53px) scale(0.8667,1.1200);">10</div>
<div class="t" id="c4y6" style="left:39.6px;top:928.1px;font-size:8px;color:#2a2a2a;font-weight:normal;transform:translate(0.38px,1.00px) scale(0.7800,1.1200);">0</div>
<div class="t" id="c4x0" style="left:45.3px;top:937.5px;font-size:8px;color:#2a2a2a;font-weight:normal;transform:translate(0.30px,0.48px) scale(0.9273,1.0400);">'14</div>
<div class="t" id="c4x1" style="left:68.9px;top:937.5px;font-size:8px;color:#2a2a2a;font-weight:normal;transform:translate(-0.11px,0.48px) scale(1.0200,1.0400);">'15</div>
<div class="t" id="c4x2" style="left:92.5px;top:937.5px;font-size:8px;color:#2a2a2a;font-weight:normal;transform:translate(-0.52px,0.48px) scale(1.0200,1.0400);">'16</div>
<div class="t" id="c4x3" style="left:116.1px;top:937.5px;font-size:8px;color:#2a2a2a;font-weight:normal;transform:translate(0.07px,0.48px) scale(1.0200,1.0400);">'17</div>
<div class="t" id="c4x4" style="left:139.7px;top:937.5px;font-size:8px;color:#2a2a2a;font-weight:normal;transform:translate(-0.34px,0.48px) scale(1.0200,1.0400);">'18</div>
<div class="t" id="c4x5" style="left:163.2px;top:937.5px;font-size:8px;color:#2a2a2a;font-weight:normal;transform:translate(0.25px,0.48px) scale(0.9273,1.0400);">'19</div>
<div class="t" id="c4x6" style="left:186.8px;top:937.5px;font-size:8px;color:#2a2a2a;font-weight:normal;transform:translate(-0.16px,0.48px) scale(1.0200,1.0400);">'20</div>
<div class="t" id="c4x7" style="left:210.4px;top:937.5px;font-size:8px;color:#2a2a2a;font-weight:normal;transform:translate(-0.70px,0.48px) scale(1.1333,1.0400);">'21</div>
<div class="t" id="c4x8" style="left:234.0px;top:937.5px;font-size:8px;color:#2a2a2a;font-weight:normal;transform:translate(0.02px,0.48px) scale(1.0200,1.0400);">'22</div>
<div class="t" id="c4x9" style="left:257.6px;top:937.5px;font-size:8px;color:#2a2a2a;font-weight:normal;transform:translate(-0.39px,0.48px) scale(1.0200,1.0400);">'23</div>
<div class="t" id="c4x10" style="left:281.2px;top:937.5px;font-size:8px;color:#2a2a2a;font-weight:normal;transform:translate(0.20px,0.48px) scale(0.9273,1.0400);">'24</div>
<div class="t" id="c4v" style="left:40.3px;top:788.3px;font-size:10.5px;color:#111;font-weight:normal;transform:translate(0.30px,2.02px) scale(0.9810,0.8750);">21.1</div>
<div class="t" id="c4d" style="left:39.5px;top:802.3px;font-size:7.5px;color:#222;font-weight:normal;direction:ltr;transform:translate(-0.50px,3.58px) scale(1.0762,0.8500);">أيار '24</div>
<div class="t" id="c4t" dir="rtl" style="right:460.4px;top:788.6px;font-size:9.5px;color:#111;font-weight:normal;transform:translate(16.00px,1.83px) scale(0.8309,0.8500);">مؤشر الإنتاج المستقبلي</div>
<div class="t" id="c4s" dir="rtl" style="right:459.5px;top:802.9px;font-size:6.8px;color:#1a1a1a;font-weight:normal;transform:translate(7.00px,2.25px) scale(0.9480,0.8500);"><span style="font-size:8.8px;line-height:0">&gt;</span><span style="font-size:8.8px;line-height:0">50</span> <span style="font-size:8.8px;line-height:0">=</span> نمو متوقع خلال الـ <span style="font-size:8.8px;line-height:0">12</span> شهرًا المقبلة</div>
<div class="t" id="foot" style="left:11.8px;top:1073.4px;font-size:10.5px;color:#222;font-weight:normal;transform:translate(-0.20px,2.00px) scale(1.0462,1.0000);">S&amp;P Global 2024 ©</div>
<div class="t" id="pmi" style="left:635.6px;top:1028.0px;font-size:27px;color:#111;font-weight:bold;transform:translate(-1.48px,3.54px) scale(1.0756,1.0526);">PMI</div>
<div class="t" style="left:685.5px;top:1033px;font-size:5px;color:#444">®</div>
<div class="b" style="left:658.3px;top:1069px;width:68.7px;height:2px;background:#222"></div>
<div class="t" id="by" style="left:635.6px;top:1070.9px;font-size:12.5px;color:#111;font-weight:bold;transform:translate(-0.40px,2.04px) scale(1.0071,0.9583);">by</div>
<div class="t" id="spg" style="left:658.3px;top:1071.6px;font-size:12.5px;color:#d0223f;font-weight:normal;-webkit-text-stroke:0.25px #d0223f;transform:translate(-0.79px,1.71px) scale(1.0905,0.9889);">S&amp;P Global</div>
</body></html>
